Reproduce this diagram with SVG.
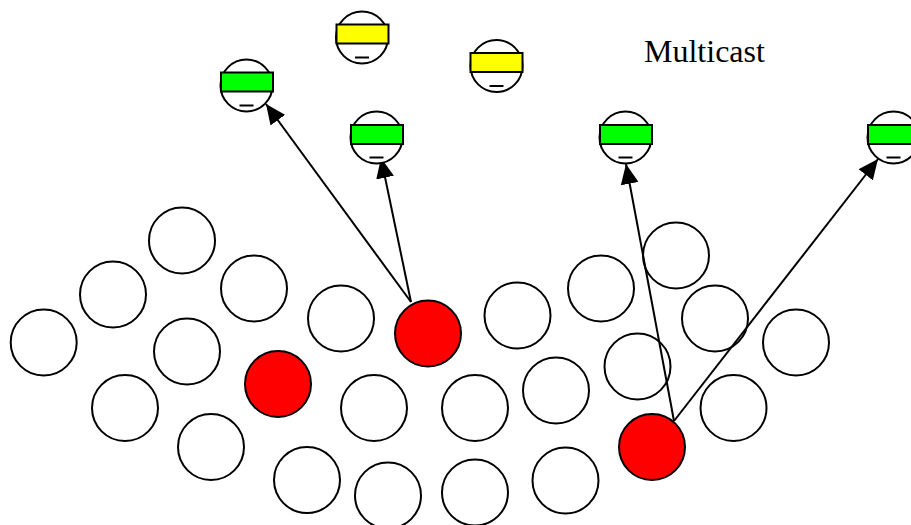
<svg xmlns="http://www.w3.org/2000/svg" width="911" height="525" viewBox="0 0 911 525">
<style>
.n{fill:#fff;stroke:#000;stroke-width:2}
.r{fill:#f00;stroke:#000;stroke-width:2}
.h{fill:#fff;stroke:#000;stroke-width:2}
.g{fill:#0f0;stroke:#000;stroke-width:2}
.y{fill:#ff0;stroke:#000;stroke-width:2}
.d{stroke:#000;stroke-width:2;fill:none}
.c{stroke:#000;stroke-width:2;fill:none;marker-end:url(#a)}
text{font-family:"Liberation Serif","Times New Roman",serif;font-size:32px;fill:#000}
</style>
<defs>
<marker id="a" markerUnits="userSpaceOnUse" markerWidth="21" markerHeight="18" refX="20" refY="9" orient="auto"><path d="M0 0L20 9L0 18Z" fill="#000"/></marker>
<g id="face"><circle class="h" cx="0" cy="0" r="26"/><path class="d" d="M-7 20H7"/></g>
</defs>
<rect width="911" height="525" fill="#fff"/>
<g id="peers" transform="translate(0 .5)">
<circle id="p1" class="n" cx="182" cy="240" r="33"/>
<circle id="p2" class="n" cx="113" cy="294" r="33"/>
<circle id="p3" class="n" cx="254" cy="288" r="33"/>
<circle id="p4" class="n" cx="43.700" cy="342" r="33"/>
<circle id="p5" class="n" cx="187" cy="351" r="33"/>
<circle id="p6" class="n" cx="341" cy="318" r="33"/>
<circle id="p7" class="n" cx="125" cy="407.500" r="33"/>
<circle id="p8" class="n" cx="211" cy="446.500" r="33"/>
<circle id="p9" class="n" cx="307" cy="479.500" r="33"/>
<circle id="p10" class="n" cx="388" cy="495" r="33"/>
<circle id="p11" class="n" cx="475" cy="492" r="33"/>
<circle id="p12" class="n" cx="565.500" cy="480" r="33"/>
<circle id="p13" class="n" cx="374" cy="407.500" r="33"/>
<circle id="p14" class="n" cx="475" cy="407.500" r="33"/>
<circle id="p15" class="n" cx="556" cy="390" r="33"/>
<circle id="p16" class="n" cx="517.500" cy="315" r="33"/>
<circle id="p17" class="n" cx="601" cy="288" r="33"/>
<circle id="p18" class="n" cx="676" cy="255" r="33"/>
<circle id="p19" class="n" cx="715" cy="318" r="33"/>
<circle id="p20" class="n" cx="796" cy="342" r="33"/>
<circle id="p21" class="n" cx="637.500" cy="366" r="33"/>
<circle id="p22" class="n" cx="733.500" cy="407.500" r="33"/>
</g>
<g id="connectors">
<path class="c" d="M411 302L266 104"/>
<path class="c" d="M411 302L381 158"/>
<path class="c" d="M674 421L626 164"/>
<path class="c" d="M674 421L878 159"/>
</g>
<g id="src1"><circle class="r" cx="428" cy="333.500" r="33"/></g>
<g id="src2"><circle class="r" cx="278" cy="384" r="33"/></g>
<g id="src3"><circle class="r" cx="652" cy="447" r="33"/></g>
<g id="r1"><use href="#face" x="246.500" y="85.500"/><rect class="g" x="221" y="72.500" width="52" height="19"/></g>
<g id="r2"><use href="#face" x="362" y="37.500"/><rect class="y" x="336.500" y="24.500" width="52" height="19"/></g>
<g id="r3"><use href="#face" x="496.500" y="66"/><rect class="y" x="470.500" y="53" width="52" height="19"/></g>
<g id="r4"><use href="#face" x="376.500" y="137.500"/><rect class="g" x="351" y="125" width="52" height="19"/></g>
<g id="r5"><use href="#face" x="625.500" y="137.500"/><rect class="g" x="600" y="125" width="52" height="19"/></g>
<g id="r6"><use href="#face" x="893.500" y="137.500"/><rect class="g" x="868" y="125" width="52" height="19"/></g>
<text id="title" x="644" y="62">Multicast</text>
</svg>
